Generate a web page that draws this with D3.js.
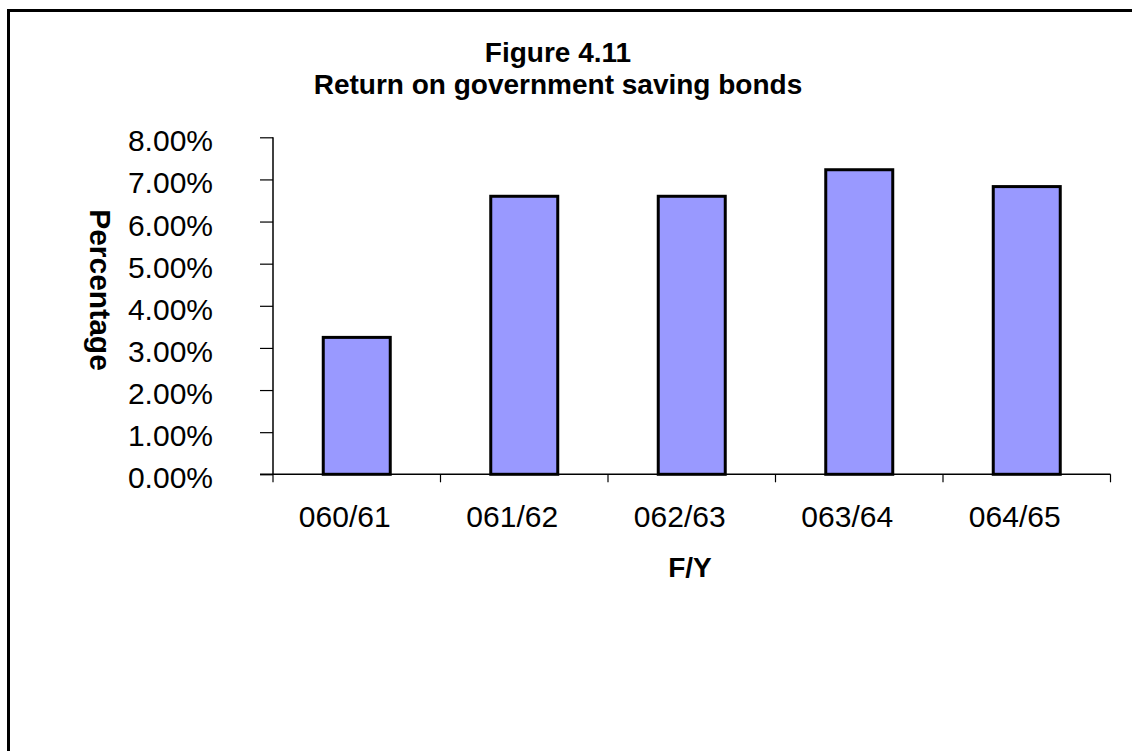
<!DOCTYPE html>
<html>
<head>
<meta charset="utf-8">
<script src="https://cdn.jsdelivr.net/npm/d3@7"></script>
<style>
  html, body { margin: 0; padding: 0; background: #fff; }
  svg { display: block; font-family: Arial, "Liberation Sans", sans-serif; }
</style>
</head>
<body>
<svg id="chart" width="1132" height="751"></svg>
<script>
const categories = ["060/61", "061/62", "062/63", "063/64", "064/65"];
const values = [0.0325, 0.066, 0.066, 0.0723, 0.0683];
const yTicks = [0, 0.01, 0.02, 0.03, 0.04, 0.05, 0.06, 0.07, 0.08];
const titleLines = ["Figure 4.11", "Return on government saving bonds"];
const xTitle = "F/Y";
const yTitle = "Percentage";

const svg = d3.select("#chart");

// outer chart border (extends beyond the visible area on right/bottom)
svg.append("rect")
  .attr("x", 8.5).attr("y", 10.5)
  .attr("width", 1200).attr("height", 800)
  .attr("fill", "none").attr("stroke", "#000").attr("stroke-width", 3);

const plot = { left: 273, right: 1110.5, top: 137.3, bottom: 474.3 };

const x = d3.scaleBand()
  .domain(categories)
  .range([plot.left, plot.right])
  .paddingInner(0.6)
  .paddingOuter(0.3);

const y = d3.scaleLinear()
  .domain([0, 0.08])
  .range([plot.bottom, plot.top]);

// title
svg.append("g").selectAll("text")
  .data(titleLines)
  .join("text")
  .attr("x", 558)
  .attr("y", (d, i) => 62 + i * 32)
  .attr("text-anchor", "middle")
  .attr("font-weight", "bold")
  .attr("font-size", 28)
  .attr("fill", "#000")
  .text(d => d);

// bars
svg.append("g").selectAll("rect")
  .data(values)
  .join("rect")
  .attr("x", (d, i) => x(categories[i]))
  .attr("y", d => y(d))
  .attr("width", x.bandwidth())
  .attr("height", d => y(0) - y(d))
  .attr("fill", "#9999FF")
  .attr("stroke", "#000")
  .attr("stroke-width", 3);

// y axis
const yAxis = d3.axisLeft(y)
  .tickValues(yTicks)
  .tickSize(13)
  .tickFormat(d3.format(".2%"));
const gy = svg.append("g")
  .attr("transform", `translate(${plot.left},0)`)
  .call(yAxis);
gy.select(".domain").attr("stroke", "#000").attr("stroke-width", 1.5)
  .attr("d", `M0,${plot.top}V${plot.bottom}`);
gy.selectAll(".tick line").attr("stroke", "#000").attr("stroke-width", 1.2);
gy.selectAll(".tick text")
  .attr("x", -60)
  .attr("dy", "0.45em")
  .attr("font-size", 30)
  .attr("fill", "#000")
  .attr("font-family", "Arial, 'Liberation Sans', sans-serif");

// x axis
const gx = svg.append("g")
  .attr("transform", `translate(0,${plot.bottom})`);
gx.append("line")
  .attr("x1", plot.left - 13).attr("x2", plot.right)
  .attr("y1", 0).attr("y2", 0)
  .attr("stroke", "#000").attr("stroke-width", 1.5);
const step = x.step();
const tickPos = d3.range(categories.length + 1).map(i => plot.left + i * step);
gx.selectAll("line.xt")
  .data(tickPos)
  .join("line")
  .attr("class", "xt")
  .attr("x1", d => d).attr("x2", d => d)
  .attr("y1", 0).attr("y2", 8)
  .attr("stroke", "#000").attr("stroke-width", 1.2);
gx.selectAll("text.xl")
  .data(categories)
  .join("text")
  .attr("class", "xl")
  .attr("x", d => x(d) + x.bandwidth() / 2 - 12)
  .attr("y", 53)
  .attr("text-anchor", "middle")
  .attr("font-size", 30)
  .attr("fill", "#000")
  .text(d => d);

// axis titles
svg.append("text")
  .attr("x", 690)
  .attr("y", 577)
  .attr("text-anchor", "middle")
  .attr("font-weight", "bold")
  .attr("font-size", 28)
  .text(xTitle);

svg.append("text")
  .attr("transform", `translate(90,290) rotate(90)`)
  .attr("text-anchor", "middle")
  .attr("font-weight", "bold")
  .attr("font-size", 30)
  .text(yTitle);
</script>
</body>
</html>
